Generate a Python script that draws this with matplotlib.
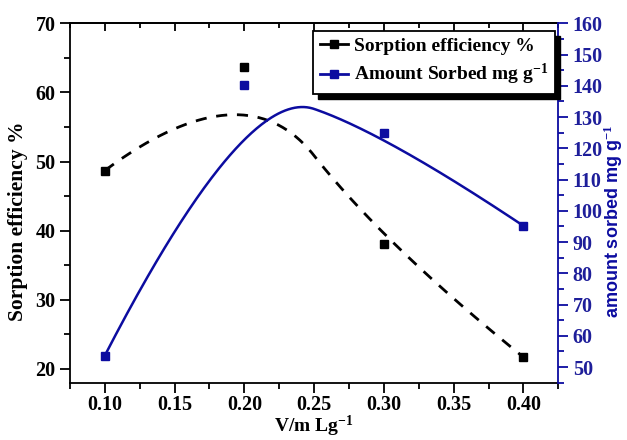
import numpy as np
import matplotlib.pyplot as plt
from matplotlib.ticker import MultipleLocator
from matplotlib.patches import Rectangle

plt.rcParams['font.family'] = 'Liberation Serif'
plt.rcParams['font.weight'] = 'bold'
plt.rcParams['axes.labelweight'] = 'bold'
plt.rcParams['mathtext.fontset'] = 'custom'
plt.rcParams['mathtext.bf'] = 'Liberation Serif:bold'
plt.rcParams['mathtext.rm'] = 'Liberation Serif:bold'
plt.rcParams['mathtext.default'] = 'bf'

# data
vm = [0.10, 0.20, 0.30, 0.40]
efficiency = [48.7, 63.7, 38.0, 21.7]      # Sorption efficiency %
sorbed = [53.7, 140.2, 125.0, 95.2]        # Amount sorbed mg g-1

blue = '#0c0ca0'
blue_txt = '#1e1e9a'


def bspline(px, py, k=2, n=300):
    # clamped B-spline using the points as control points (Origin style)
    px = np.asarray(px, float)
    py = np.asarray(py, float)
    m = len(px)
    knots = np.r_[[0.0] * (k + 1), np.arange(1, m - k), [m - k] * (k + 1)].astype(float)
    t = np.linspace(0, m - k - 1e-9, n)

    def N(i, d):
        if d == 0:
            return ((knots[i] <= t) & (t < knots[i + 1])).astype(float)
        out = np.zeros_like(t)
        den = knots[i + d] - knots[i]
        if den > 0:
            out += (t - knots[i]) / den * N(i, d - 1)
        den = knots[i + d + 1] - knots[i + 1]
        if den > 0:
            out += (knots[i + d + 1] - t) / den * N(i + 1, d - 1)
        return out

    B = np.array([N(i, k) for i in range(m)])
    return B.T @ px, B.T @ py


fig = plt.figure(figsize=(6.27, 4.4), dpi=100)
ax = fig.add_axes([0.1116, 0.1302, 0.7788, 0.8168])
ax2 = ax.twinx()

bx, by = bspline(vm, efficiency)
ax.plot(bx, by, color='black', lw=2, ls=(0, (4, 3.5)))
ax.plot(vm, efficiency, ls='none', marker='s', ms=6, color='black')

cx, cy = bspline(vm, sorbed)
ax2.plot(cx, cy, color=blue, lw=1.8)
ax2.plot(vm, sorbed, ls='none', marker='s', ms=6, color=blue)

# legend handles
h1, = ax.plot([], [], color='black', lw=2, marker='s', ms=6)
h2, = ax.plot([], [], color=blue, lw=2, marker='s', ms=6)
leg = ax2.legend([h1, h2], ['Sorption efficiency %', 'Amount Sorbed mg g$^{-1}$'],
                 loc='upper right', bbox_to_anchor=(0.993, 0.979), borderaxespad=0,
                 fontsize=14, handlelength=1.45, handletextpad=0.3, labelspacing=0.35,
                 borderpad=0.35, fancybox=False, framealpha=1)
leg.get_frame().set_edgecolor('black')
leg.get_frame().set_linewidth(1.3)
leg.set_zorder(10)

ax.set_xlim(0.075, 0.425)
ax.set_ylim(18, 70)
ax2.set_ylim(45, 160)

ax.xaxis.set_major_locator(MultipleLocator(0.05))
ax.xaxis.set_minor_locator(MultipleLocator(0.025))
ax.yaxis.set_major_locator(MultipleLocator(10))
ax.yaxis.set_minor_locator(MultipleLocator(5))
ax2.yaxis.set_major_locator(MultipleLocator(10))
ax2.yaxis.set_minor_locator(MultipleLocator(5))
ax.xaxis.set_major_formatter(lambda v, p: f'{v:.2f}')

ax.tick_params(axis='both', which='major', direction='out', length=7, width=1.3, labelsize=14.5)
ax.tick_params(axis='x', which='major', pad=2)
ax.tick_params(axis='both', which='minor', direction='out', length=4, width=1.3)
ax2.tick_params(axis='y', which='major', direction='out', length=7, width=1.3,
                labelsize=14.5, colors=blue, labelcolor=blue_txt)
ax2.tick_params(axis='y', which='minor', direction='out', length=4, width=1.3, colors=blue)

top = ax.secondary_xaxis('top')
top.xaxis.set_major_locator(MultipleLocator(0.05))
top.xaxis.set_minor_locator(MultipleLocator(0.025))
top.tick_params(which='major', direction='in', length=6, width=1.3, labeltop=False)
top.tick_params(which='minor', direction='in', length=3.5, width=1.3)
top.spines['top'].set_linewidth(1.3)

for s in ['left', 'bottom', 'top']:
    ax.spines[s].set_linewidth(1.3)
ax.spines['right'].set_visible(False)
ax2.spines['right'].set_color(blue)
ax2.spines['right'].set_linewidth(1.3)
for s in ['left', 'bottom', 'top']:
    ax2.spines[s].set_visible(False)

ax.set_xlabel('V/m Lg$^{-1}$', fontsize=14, labelpad=-1)
ax.set_ylabel('Sorption efficiency %', fontsize=15.5)
ax.yaxis.set_label_coords(-0.086, 0.45)
ax2.set_ylabel('amount sorbed mg g$^{-1}$', fontsize=13, family='Liberation Sans',
               fontweight='bold', color=blue)
ax2.yaxis.set_label_coords(1.088, 0.45)

# solid black drop shadow behind the legend box
fig.canvas.draw()
bb = leg.get_window_extent().transformed(fig.transFigure.inverted())
dx, dy = 5 / 627, 5 / 440
ax2.add_patch(Rectangle((bb.x0 + dx, bb.y0 - dy), bb.width, bb.height,
                        transform=fig.transFigure, color='black', zorder=9, clip_on=False))

fig.savefig('out.png', dpi=100)
